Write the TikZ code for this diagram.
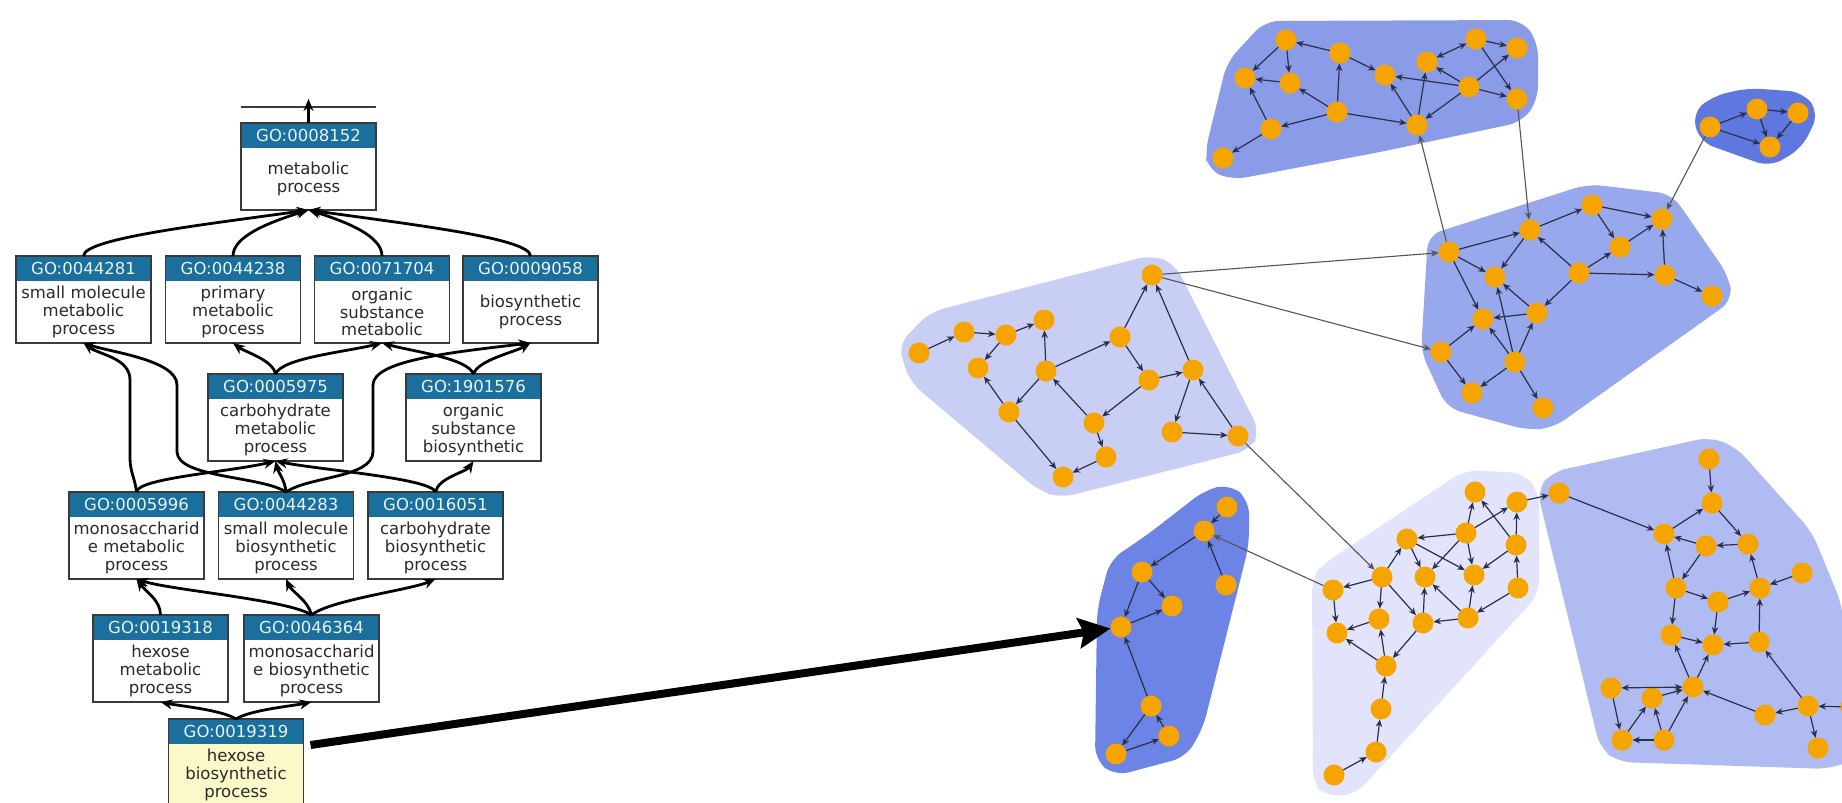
\documentclass[tikz,border=0pt]{standalone}
\usepackage{fontspec}
\setmainfont{DejaVu Sans}
\usetikzlibrary{arrows.meta}

\definecolor{gohead}{HTML}{1A6F9C}
\definecolor{goheadtext}{HTML}{E8F4FA}
\definecolor{gotext}{HTML}{2A2A2A}
\definecolor{goborder}{HTML}{3A3A3A}
\definecolor{goyellow}{HTML}{FBF9C9}
\definecolor{orangenode}{HTML}{F6A500}
\definecolor{edgecol}{HTML}{2B2E4A}
\definecolor{linkcol}{HTML}{555555}
\definecolor{hullAB}{HTML}{8A9CE8}
\definecolor{hullC}{HTML}{5F78E0}
\definecolor{hullD}{HTML}{97A8EC}
\definecolor{hullE}{HTML}{C9CEF5}
\definecolor{hullF}{HTML}{6C84E6}
\definecolor{hullG}{HTML}{E1E4FA}
\definecolor{hullH}{HTML}{B0BBF1}

% GO term box: name, centre x, centre y, identifier, label, body colour
\newcommand{\goterm}[6]{%
  \node[gobox, fill=#6] (#1) at (#2,#3) {};
  \node[gohdr] (#1h) at (#1.north) {#4};
  \node[gobody] (#1b) at ([yshift=-12.5pt]#1.center) {#5};
  \draw[goframe] (#1.north west) rectangle (#1.south east);
}

\begin{document}
\begin{tikzpicture}[x=1pt,y=-1pt,
  gobox/.style={rectangle, minimum width=135pt, minimum height=87pt, inner sep=0pt, outer sep=0pt},
  gohdr/.style={rectangle, anchor=north, fill=gohead, minimum width=135pt, minimum height=25pt,
                inner sep=0pt, text=goheadtext, font=\fontsize{16.5}{18}\selectfont},
  gobody/.style={align=center, inner sep=0pt, text=gotext, font=\fontsize{16.5}{17.7}\selectfont},
  goframe/.style={draw=goborder, line width=1.4pt},
  goarrow/.style={draw=black, line width=2.8pt, -{Stealth[length=12pt,width=10pt]}},
  bigarrow/.style={draw=black, line width=8pt, -{Stealth[length=32pt,width=30pt,inset=5pt]}},
  gnode/.style={circle, fill=orangenode, minimum size=21pt, inner sep=0pt, outer sep=0pt},
  gedge/.style={draw=edgecol, line width=1.2pt, -{Stealth[length=7.5pt,width=6.5pt]}},
  gboth/.style={draw=edgecol, line width=1.2pt, {Stealth[length=7.5pt,width=6.5pt]}-{Stealth[length=7.5pt,width=6.5pt]}},
  glink/.style={draw=linkcol, line width=1.1pt, -{Stealth[length=7.5pt,width=6.5pt]}},
  hull/.style={rounded corners=14pt}
]
\useasboundingbox (0,0) rectangle (1842,803);
\clip (0,0) rectangle (1842,803);
\fill[white] (0,0) rectangle (1842,803);

% ---------------- GO hierarchy ----------------
\goterm{n0008152}{308.5}{166.5}{GO:0008152}{metabolic\\process}{white}
\goterm{n0044281}{83.5}{299.5}{GO:0044281}{small molecule\\metabolic\\process}{white}
\goterm{n0044238}{233}{299.5}{GO:0044238}{primary\\metabolic\\process}{white}
\goterm{n0071704}{382}{299.5}{GO:0071704}{organic\\substance\\metabolic}{white}
\goterm{n0009058}{530.5}{299.5}{GO:0009058}{biosynthetic\\process}{white}
\goterm{n0005975}{275.5}{417.5}{GO:0005975}{carbohydrate\\metabolic\\process}{white}
\goterm{n1901576}{473.5}{417.5}{GO:1901576}{organic\\substance\\biosynthetic}{white}
\goterm{n0005996}{136.5}{535.5}{GO:0005996}{monosaccharid\\e metabolic\\process}{white}
\goterm{n0044283}{286}{535.5}{GO:0044283}{small molecule\\biosynthetic\\process}{white}
\goterm{n0016051}{435.5}{535.5}{GO:0016051}{carbohydrate\\biosynthetic\\process}{white}
\goterm{n0019318}{160.5}{658.5}{GO:0019318}{hexose\\metabolic\\process}{white}
\goterm{n0046364}{311.5}{658.5}{GO:0046364}{monosaccharid\\e biosynthetic\\process}{white}
\goterm{n0019319}{236}{762.5}{GO:0019319}{hexose\\biosynthetic\\process}{goyellow}

\coordinate (topL) at (241,107);
\coordinate (topR) at (376,107);
\coordinate (topT) at (308.5,99);
\draw[line width=1.2pt, draw=goborder] (topL) -- (topR);
\draw[goarrow] (n0008152.north) -- (topT);

\draw[goarrow] (n0044281.north) .. controls (83.5,238) and (210,224) .. (n0008152.south);
\draw[goarrow] (n0044238.north) .. controls (233,236) and (270,222) .. (n0008152.south);
\draw[goarrow] (n0071704.north) .. controls (382,236) and (347,222) .. (n0008152.south);
\draw[goarrow] (n0009058.north) .. controls (530.5,238) and (407,224) .. (n0008152.south);

\draw[goarrow] (n0005975.north) .. controls (273,360) and (245,352) .. (n0044238.south);
\draw[goarrow] (n0005975.north) .. controls (282,358) and (345,352) .. (n0071704.south);
\draw[goarrow] (n1901576.north) .. controls (467,358) and (415,352) .. (n0071704.south);
\draw[goarrow] (n1901576.north) .. controls (478,360) and (515,352) .. (n0009058.south);

\draw[goarrow] (n0005996.north) .. controls (135,478) and (130,472) .. (130,458) -- (130,380)
  .. controls (130,358) and (100,355) .. (n0044281.south);
\draw[goarrow] (n0044283.north) .. controls (262,476) and (178,478) .. (177,452) -- (177,385)
  .. controls (177,360) and (110,352) .. (n0044281.south);
\draw[goarrow] (n0044283.north) .. controls (310,476) and (372,478) .. (373,452) -- (373,385)
  .. controls (373,360) and (455,352) .. (n0009058.south);

\draw[goarrow] (n0005996.north) .. controls (138,478) and (230,472) .. (n0005975.south);
\draw[goarrow] (n0044283.north) .. controls (285,480) and (278,472) .. (n0005975.south);
\draw[goarrow] (n0016051.north) .. controls (430,478) and (320,470) .. (n0005975.south);
\draw[goarrow] (n0016051.north) .. controls (438,478) and (466,472) .. (n1901576.south);

\draw[goarrow] (n0019318.north) .. controls (160.5,600) and (146,592) .. (n0005996.south);
\draw[goarrow] (n0046364.north) .. controls (290,600) and (170,590) .. (n0005996.south);
\draw[goarrow] (n0046364.north) .. controls (308,600) and (292,592) .. (n0044283.south);
\draw[goarrow] (n0046364.north) .. controls (330,600) and (410,590) .. (n0016051.south);

\draw[goarrow] (n0019319.north) .. controls (222,710) and (180,706) .. (n0019318.south);
\draw[goarrow] (n0019319.north) .. controls (250,710) and (292,706) .. (n0046364.south);

% ---------------- cluster hulls ----------------
\fill[hullAB, hull] (1227,62) -- (1265,21) -- (1522,20) -- (1538,42) -- (1538,100) -- (1522,122)
  -- (1380,152) -- (1232,180) -- (1208,170) -- (1205,152) -- cycle;
\fill[hullC, hull] (1692,113) -- (1713,96) -- (1748,88) -- (1803,92) -- (1819,113) -- (1802,148)
  -- (1770,167) -- (1700,142) -- cycle;
\fill[hullD, hull] (1428,235) -- (1588,184) -- (1672,194) -- (1728,275) -- (1733,300)
  -- (1553,428) -- (1527,430) -- (1447,408) -- (1421,352) -- cycle;
\fill[hullE, hull=18pt] (898,345) -- (930,312) -- (1152,255) -- (1175,264) -- (1260,432)
  -- (1250,450) -- (1060,498) -- (1038,490) -- (910,382) -- cycle;
\fill[hullF, hull] (1205,490) -- (1230,484) -- (1249,500) -- (1249,545) -- (1203,728)
  -- (1186,757) -- (1115,776) -- (1095,760) -- (1097,610) -- (1110,560) -- (1147,535) -- cycle;
\fill[hullG, hull] (1312,578) -- (1322,565) -- (1465,470) -- (1524,473) -- (1539,492)
  -- (1539,594) -- (1355,795) -- (1324,796) -- (1313,783) -- cycle;
\fill[hullH, hull] (1537,490) -- (1552,472) -- (1710,437) -- (1736,447) -- (1812,532)
  -- (1842,605) -- (1852,760) -- (1830,769) -- (1618,762) -- (1600,748) -- cycle;

% ---------------- network nodes ----------------
\node[gnode] (A1) at (1286,40) {};  \node[gnode] (A2) at (1340,53) {};
\node[gnode] (A3) at (1245,78) {};  \node[gnode] (A4) at (1290,83) {};
\node[gnode] (A5) at (1337,112) {}; \node[gnode] (A6) at (1271,129) {};
\node[gnode] (A7) at (1223,158) {};
\node[gnode] (B1) at (1385,75) {};  \node[gnode] (B2) at (1427,62) {};
\node[gnode] (B3) at (1476,39) {};  \node[gnode] (B4) at (1517,48) {};
\node[gnode] (B5) at (1469,87) {};  \node[gnode] (B6) at (1517,99) {};
\node[gnode] (B7) at (1417,125) {};

\node[gnode] (C1) at (1710,127) {}; \node[gnode] (C2) at (1757,109) {};
\node[gnode] (C3) at (1798,113) {}; \node[gnode] (C4) at (1770,147) {};

\node[gnode] (D1) at (1449,252) {};  \node[gnode] (D2) at (1530,230) {};
\node[gnode] (D3) at (1592,205) {};  \node[gnode] (D4) at (1662,219) {};
\node[gnode] (D5) at (1620,247) {};  \node[gnode] (D6) at (1495,277) {};
\node[gnode] (D7) at (1579,273) {};  \node[gnode] (D8) at (1665,275) {};
\node[gnode] (D9) at (1712,296) {};  \node[gnode] (D10) at (1483,319) {};
\node[gnode] (D11) at (1537,313) {}; \node[gnode] (D12) at (1441,352) {};
\node[gnode] (D13) at (1515,362) {}; \node[gnode] (D14) at (1472,393) {};
\node[gnode] (D15) at (1543,408) {};

\node[gnode] (E1) at (1152,275) {};  \node[gnode] (E2) at (919,353) {};
\node[gnode] (E3) at (964,332) {};   \node[gnode] (E4) at (1006,335) {};
\node[gnode] (E5) at (1044,320) {};  \node[gnode] (E6) at (978,368) {};
\node[gnode] (E7) at (1046,371) {};  \node[gnode] (E8) at (1120,337) {};
\node[gnode] (E9) at (1009,412) {};  \node[gnode] (E10) at (1149,380) {};
\node[gnode] (E11) at (1193,370) {}; \node[gnode] (E12) at (1094,423) {};
\node[gnode] (E13) at (1172,432) {}; \node[gnode] (E14) at (1238,436) {};
\node[gnode] (E15) at (1106,457) {}; \node[gnode] (E16) at (1063,477) {};

\node[gnode] (F1) at (1227,507) {}; \node[gnode] (F2) at (1204,531) {};
\node[gnode] (F3) at (1142,572) {}; \node[gnode] (F4) at (1226,585) {};
\node[gnode] (F5) at (1172,606) {}; \node[gnode] (F6) at (1121,627) {};
\node[gnode] (F7) at (1151,706) {}; \node[gnode] (F8) at (1169,736) {};
\node[gnode] (F9) at (1116,754) {};

\node[gnode] (G1) at (1333,590) {};  \node[gnode] (G2) at (1382,577) {};
\node[gnode] (G3) at (1407,539) {};  \node[gnode] (G4) at (1425,577) {};
\node[gnode] (G5) at (1466,533) {};  \node[gnode] (G6) at (1475,492) {};
\node[gnode] (G7) at (1517,502) {};  \node[gnode] (G8) at (1474,575) {};
\node[gnode] (G9) at (1516,545) {};  \node[gnode] (G10) at (1518,588) {};
\node[gnode] (G11) at (1337,633) {}; \node[gnode] (G12) at (1379,619) {};
\node[gnode] (G13) at (1423,623) {}; \node[gnode] (G14) at (1468,618) {};
\node[gnode] (G15) at (1386,666) {}; \node[gnode] (G16) at (1381,709) {};
\node[gnode] (G17) at (1376,752) {}; \node[gnode] (G18) at (1334,775) {};

\node[gnode] (H1) at (1559,493) {};  \node[gnode] (H2) at (1709,459) {};
\node[gnode] (H3) at (1712,503) {};  \node[gnode] (H4) at (1664,534) {};
\node[gnode] (H5) at (1706,546) {};  \node[gnode] (H6) at (1748,544) {};
\node[gnode] (H7) at (1802,573) {};  \node[gnode] (H8) at (1676,588) {};
\node[gnode] (H9) at (1760,588) {};  \node[gnode] (H10) at (1718,602) {};
\node[gnode] (H11) at (1671,635) {}; \node[gnode] (H12) at (1713,645) {};
\node[gnode] (H13) at (1759,642) {}; \node[gnode] (H14) at (1611,688) {};
\node[gnode] (H15) at (1652,698) {}; \node[gnode] (H16) at (1693,687) {};
\node[gnode] (H17) at (1765,715) {}; \node[gnode] (H18) at (1808,706) {};
\node[gnode] (H19) at (1622,740) {}; \node[gnode] (H20) at (1664,740) {};
\node[gnode] (H21) at (1818,748) {}; \node[gnode] (H22) at (1851,707) {};

% ---------------- network edges ----------------
\foreach \a/\b in {A2/A1, A1/A3, A1/A4, A4/A3, A5/A4, A5/A2, A2/B1, A6/A3, A5/A6, A6/A7, A5/B7,
  B3/B4, B3/B6, B5/B2, B5/B1, B5/B4, B5/B6, B5/B7, B7/B1, B7/B2,
  C1/C2, C2/C3, C2/C4, C3/C4, C1/C4,
  D1/D2, D1/D6, D1/D10, D2/D3, D2/D6, D3/D4, D3/D5, D5/D4, D7/D2, D7/D5, D7/D8, D7/D11,
  D8/D4, D8/D9, D11/D6, D11/D10, D13/D6, D13/D10, D13/D11, D13/D14, D13/D15, D12/D10, D12/D14,
  E2/E3, E3/E4, E4/E5, E4/E6, E7/E5, E7/E9, E7/E8, E9/E6, E9/E16, E12/E7, E12/E15, E15/E16,
  E8/E1, E8/E10, E10/E12, E10/E11, E11/E1, E11/E13, E13/E14, E14/E11,
  F1/F2, F2/F3, F4/F2, F3/F5, F3/F6, F6/F5, F7/F6, F7/F9, F8/F7, F9/F8,
  G2/G1, G2/G12, G2/G3, G2/G13, G3/G4, G3/G8, G5/G3, G5/G6, G5/G7, G5/G4, G5/G8,
  G9/G7, G9/G6, G9/G8, G10/G9, G10/G14, G14/G13, G14/G8, G14/G4, G13/G4, G13/G15,
  G15/G12, G15/G11, G12/G11, G1/G11, G16/G15, G17/G16, G18/G17, G7/H1,
  H1/H4, H2/H3, H4/H3, H3/H6, H6/H5, H5/H4, H5/H8, H8/H4, H8/H11, H8/H10, H10/H9, H9/H6,
  H7/H9, H10/H12, H11/H12, H13/H12, H13/H9, H16/H11, H16/H12, H15/H16, H14/H19, H19/H15,
  H20/H19, H20/H15, H20/H16, H17/H16, H18/H17, H18/H13, H18/H21, H22/H18}
  \draw[gedge] (\a) -- (\b);
\draw[gboth] (B3) -- (B2);
\draw[gboth] (H14) -- (H16);

% links between clusters
\foreach \a/\b in {D1/B7, B6/D2, C1/D4, E1/D1, E1/D12, E14/G2, G1/F2}
  \draw[glink] (\a) -- (\b);

% highlighted term mapped onto the network
\draw[bigarrow] ([xshift=7pt,yshift=17.5pt]n0019319.east) -- (F6);
\end{tikzpicture}
\end{document}
